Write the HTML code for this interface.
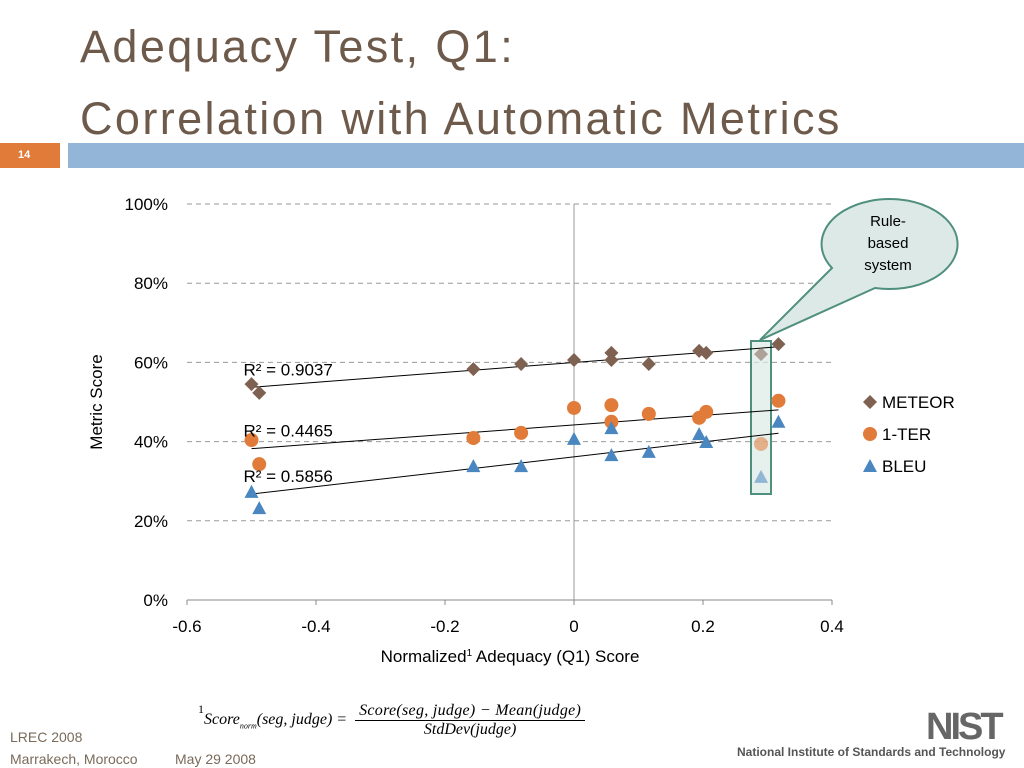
<!DOCTYPE html>
<html><head><meta charset="utf-8"><style>
body{margin:0;width:1024px;height:768px;background:#fff;overflow:hidden;font-family:"Liberation Sans",sans-serif;position:relative}
.t{position:absolute;left:80px;color:#6e5a4b;font-size:45px;letter-spacing:2.4px}
.ft{position:absolute;color:#7a6a5a;font-size:14px}
</style></head><body>
<div class="t" style="top:21px">Adequacy Test, Q1:</div>
<div class="t" style="top:93px">Correlation with Automatic Metrics</div>
<div style="position:absolute;left:0;top:143px;width:60px;height:25px;background:#e07b39;color:#fff;font-size:11px;font-weight:bold;line-height:25px;text-indent:18px">14</div>
<div style="position:absolute;left:68px;top:143px;width:956px;height:25px;background:#93b6d8"></div>
<svg id="chart" width="1024" height="768" style="position:absolute;left:0;top:0" font-family="Liberation Sans, sans-serif"></svg>
<div class="ft" style="left:10px;top:729px">LREC 2008</div>
<div class="ft" style="left:10px;top:751px">Marrakech, Morocco</div>
<div class="ft" style="left:175px;top:751px">May 29 2008</div>
<div style="position:absolute;left:198px;top:702px;font-family:'Liberation Serif',serif;font-style:italic;font-size:16px;color:#000;white-space:nowrap">
<span style="font-style:normal;font-size:12px;vertical-align:top">1</span>Score<sub style="font-size:8px">norm</sub>(seg, judge) =
<span style="display:inline-block;vertical-align:middle;text-align:center;margin-left:4px"><span style="display:block;border-bottom:1px solid #000;padding:0 4px;letter-spacing:0.3px">Score(seg, judge) − Mean(judge)</span><span style="display:block">StdDev(judge)</span></span></div>
<div style="position:absolute;left:926px;top:706px;font-size:38px;font-weight:bold;color:#666;letter-spacing:-3px">NIST</div>
<div style="position:absolute;left:737px;top:745px;font-size:12px;font-weight:bold;color:#555">National Institute of Standards and Technology</div>
<script>
const xs=[-0.5,-0.488,-0.156,-0.082,0,0.058,0.058,0.116,0.194,0.205,0.29,0.317];
const meteor=[54.5,52.3,58.3,59.6,60.6,62.4,60.6,59.6,62.9,62.4,62.1,64.6];
const ter=[40.4,34.3,40.9,42.2,48.5,49.2,45,47,46,47.5,39.4,50.3];
const bleu=[27.3,23.2,33.8,33.8,40.7,36.6,43.4,37.4,41.9,39.9,31.1,45];
const xTicks=[-0.6,-0.4,-0.2,0,0.2,0.4];
const xTickLabels=["-0.6","-0.4","-0.2","0","0.2","0.4"];
const yTicks=[0,20,40,60,80,100];
const r2Labels=["R² = 0.9037","R² = 0.4465","R² = 0.5856"];
const highlightIndex=10;
const svg=document.getElementById('chart');const NS='http://www.w3.org/2000/svg';
const X=v=>187+(v+0.6)*645;const Y=v=>600-v*3.96;
function mk(t,a,p){const e=document.createElementNS(NS,t);for(const k in a)e.setAttribute(k,a[k]);(p||svg).appendChild(e);return e;}
yTicks.forEach(t=>{if(t>0){const g=mk('line',{x1:187,x2:832,y1:Y(t),y2:Y(t),stroke:'#999','stroke-dasharray':'5,4'});

}
const l=mk('text',{x:168,y:Y(t)+6,'text-anchor':'end','font-size':17});l.textContent=t+'%';

});
mk('line',{x1:187,x2:832,y1:600,y2:600,stroke:'#888'});
mk('line',{x1:X(0),x2:X(0),y1:204,y2:600,stroke:'#999'});
xTicks.forEach((t,i)=>{mk('line',{x1:X(t),x2:X(t),y1:600,y2:605,stroke:'#888'});
const l=mk('text',{x:X(t),y:632,'text-anchor':'middle','font-size':17});l.textContent=xTickLabels[i];

});
const xt=mk('text',{x:510,y:662,'text-anchor':'middle','font-size':17});xt.innerHTML='Normalized<tspan font-size="10" dy="-6">1</tspan><tspan dy="6"> Adequacy (Q1) Score</tspan>';


const yt=mk('text',{x:0,y:0,'text-anchor':'middle','font-size':17,transform:'translate(102,402) rotate(-90)'});yt.textContent='Metric Score';


const hb=mk('rect',{x:751,y:341,width:20,height:153,fill:'#dce9e6','fill-opacity':0.7,stroke:'#4f8f7d','stroke-width':2});


const co=mk('path',{d:'M 832 268 A 68 45 0 1 1 875 288 L 760 340 Z',fill:'#dce9e6',stroke:'#4f8f7d','stroke-width':2});


['Rule-','based','system'].forEach((s,i)=>{const t=mk('text',{x:888,y:226+i*22,'text-anchor':'middle','font-size':15});t.textContent=s;

});
function fit(ys){const n=xs.length;let mx=0,my=0;xs.forEach((x,i)=>{mx+=x;my+=ys[i]});mx/=n;my/=n;let a=0,b=0;xs.forEach((x,i)=>{a+=(x-mx)*(ys[i]-my);b+=(x-mx)**2});const s=a/b;return x=>my+s*(x-mx);}
const series=[{d:meteor,c:'#7f6151',s:'d',n:'meteor'},{d:ter,c:'#e07b39',s:'c',n:'ter'},{d:bleu,c:'#4a86bf',s:'t',n:'bleu'}];
function marker(sh,cx,cy,c,op){let e;
if(sh==='d')e=mk('polygon',{points:`${cx},${cy-7} ${cx+7},${cy} ${cx},${cy+7} ${cx-7},${cy}`,fill:c});
else if(sh==='c')e=mk('circle',{cx:cx,cy:cy,r:7,fill:c});
else e=mk('polygon',{points:`${cx},${cy-7} ${cx+7},${cy+6} ${cx-7},${cy+6}`,fill:c});
if(op)e.setAttribute('opacity',op);return e;}
series.forEach((s,k)=>{const f=fit(s.d);
const ln=mk('line',{x1:X(-0.5),y1:Y(f(-0.5)),x2:X(0.317),y2:Y(f(0.317)),stroke:'#000','stroke-width':1});


s.d.forEach((v,i)=>{const m=marker(s.s,X(xs[i]),Y(v),s.c,i===highlightIndex?0.55:null);

});
const r=mk('text',{x:X(-0.5)-8,y:Y(f(-0.5))-12,'font-size':17});r.textContent=r2Labels[k];


const lm=marker(s.s,870,402+k*32,s.c);


const lt=mk('text',{x:882,y:408+k*32,'font-size':17});lt.textContent=['METEOR','1-TER','BLEU'][k];

});
</script>
</body></html>
